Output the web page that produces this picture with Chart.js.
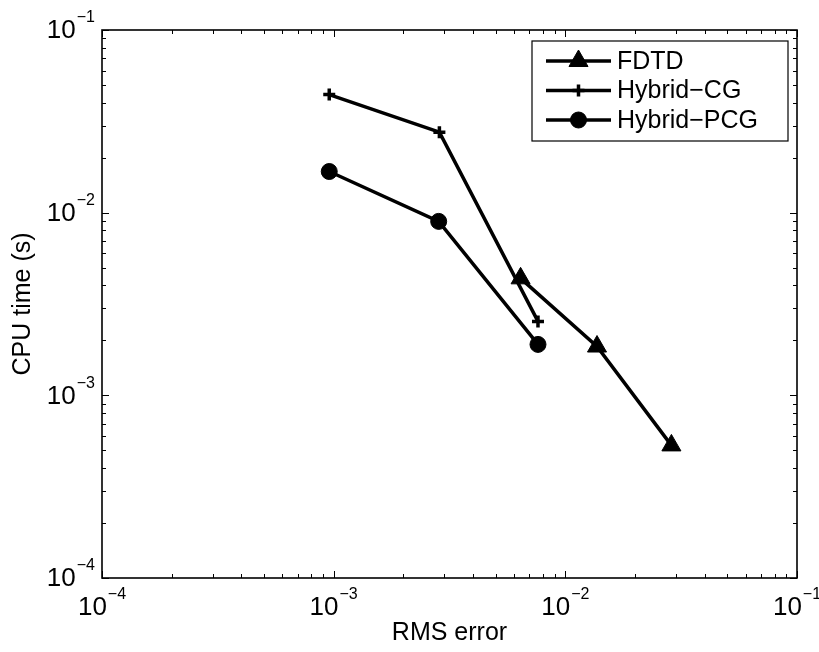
<!DOCTYPE html>
<html>
<head>
<meta charset="utf-8">
<script src="https://cdn.jsdelivr.net/npm/chart.js@4.4.1/dist/chart.umd.min.js"></script>
<style>
  html, body { margin: 0; background: #fff; }
  canvas { display: block; }
</style>
</head>
<body>
<canvas id="cpuChart" width="819" height="652"></canvas>
<script>
// values (RMS error vs CPU time, log-log)
const seriesNames = ['FDTD', 'Hybrid\u2212CG', 'Hybrid\u2212PCG'];
const fdtdErr = [6.41e-3, 1.37e-2, 2.87e-2];
const fdtdTime = [4.37e-3, 1.85e-3, 5.32e-4];
const cgErr = [9.57e-4, 2.86e-3, 7.62e-3];
const cgTime = [4.43e-2, 2.76e-2, 2.54e-3];
const pcgErr = [9.57e-4, 2.84e-3, 7.62e-3];
const pcgTime = [1.68e-2, 8.96e-3, 1.90e-3];
const decadeExps = [-4, -3, -2, -1];
const minorSteps = [2, 3, 4, 5, 6, 7, 8, 9];

const FONT = '"Liberation Sans", Arial, Helvetica, sans-serif';

function toPoints(xs, ys) {
    return xs.map((x, i) => ({ x: x, y: ys[i] }));
}

// draws "10" with a raised exponent
function drawPow(ctx, x, y, exp, align) {
    const base = '10';
    const sup = (exp < 0 ? '\u2212' : '') + Math.abs(exp);
    ctx.font = '26px ' + FONT;
    const wb = ctx.measureText(base).width;
    ctx.font = '16px ' + FONT;
    const ws = ctx.measureText(sup).width;
    const total = wb + 1 + ws;
    const x0 = align === 'center' ? x - total / 2 : x - total;
    ctx.textAlign = 'left';
    ctx.textBaseline = 'middle';
    ctx.font = '26px ' + FONT;
    ctx.fillText(base, x0, y);
    ctx.font = '16px ' + FONT;
    ctx.fillText(sup, x0 + wb + 1, y - 13);
}

// box, inward ticks on all four sides and tick labels, MATLAB style
const matlabAxes = {
    id: 'matlabAxes',
    afterDraw(chart) {
        const { ctx, chartArea: a } = chart;
        const xs = chart.scales.x, ys = chart.scales.y;
        ctx.save();
        ctx.strokeStyle = '#000';
        ctx.fillStyle = '#000';
        ctx.lineWidth = 1;

        const majorLen = 7, minorLen = 4;
        const tickValues = [];
        decadeExps.forEach((e, i) => {
            tickValues.push({ v: Math.pow(10, e), major: true });
            if (i < decadeExps.length - 1) {
                minorSteps.forEach(m => tickValues.push({ v: m * Math.pow(10, e), major: false }));
            }
        });

        ctx.beginPath();
        tickValues.forEach(t => {
            const len = t.major ? majorLen : minorLen;
            const px = Math.round(xs.getPixelForValue(t.v)) + 0.5;
            ctx.moveTo(px, a.bottom); ctx.lineTo(px, a.bottom - len);
            ctx.moveTo(px, a.top); ctx.lineTo(px, a.top + len);
            const py = Math.round(ys.getPixelForValue(t.v)) + 0.5;
            ctx.moveTo(a.left, py); ctx.lineTo(a.left + len, py);
            ctx.moveTo(a.right, py); ctx.lineTo(a.right - len, py);
        });
        ctx.stroke();

        ctx.lineWidth = 1.6;
        ctx.strokeRect(a.left, a.top, a.right - a.left, a.bottom - a.top);

        decadeExps.forEach(e => {
            const v = Math.pow(10, e);
            drawPow(ctx, xs.getPixelForValue(v), a.bottom + 30, e, 'center');
            drawPow(ctx, a.left - 7, ys.getPixelForValue(v) + 1, e, 'right');
        });
        ctx.restore();
    }
};

// legend box with line + marker samples
const matlabLegend = {
    id: 'matlabLegend',
    afterDraw(chart) {
        const { ctx, chartArea: a } = chart;
        const boxW = 256, boxH = 100;
        const bx = a.right - 9 - boxW, by = a.top + 11;
        ctx.save();
        ctx.fillStyle = '#fff';
        ctx.fillRect(bx, by, boxW, boxH);
        ctx.strokeStyle = '#000';
        ctx.lineWidth = 1.2;
        ctx.strokeRect(bx, by, boxW, boxH);

        chart.data.datasets.forEach((ds, i) => {
            const y = by + 20 + i * 29.5;
            ctx.strokeStyle = ds.borderColor;
            ctx.lineWidth = ds.borderWidth;
            ctx.beginPath();
            ctx.moveTo(bx + 14, y);
            ctx.lineTo(bx + 79, y);
            ctx.stroke();
            ctx.fillStyle = ds.pointBackgroundColor;
            ctx.strokeStyle = ds.pointBorderColor;
            ctx.lineWidth = ds.pointBorderWidth;
            Chart.helpers.drawPoint(ctx, {
                pointStyle: ds.pointStyle,
                radius: ds.pointRadius,
                rotation: 0,
                borderWidth: ds.pointBorderWidth
            }, bx + 46.5, y);
            ctx.fillStyle = '#000';
            ctx.font = '25px ' + FONT;
            ctx.textAlign = 'left';
            ctx.textBaseline = 'middle';
            ctx.fillText(ds.label, bx + 85, y + 1);
        });
        ctx.restore();
    }
};

const ctx = document.getElementById('cpuChart').getContext('2d');
new Chart(ctx, {
    type: 'line',
    data: {
        datasets: [{
            label: seriesNames[0],
            data: toPoints(fdtdErr, fdtdTime),
            borderColor: '#000',
            backgroundColor: '#000',
            borderWidth: 3.5,
            pointStyle: 'triangle',
            pointRadius: 11,
            pointBorderWidth: 1,
            pointBackgroundColor: '#000',
            pointBorderColor: '#000'
        }, {
            label: seriesNames[1],
            data: toPoints(cgErr, cgTime),
            borderColor: '#000',
            backgroundColor: '#000',
            borderWidth: 3.5,
            pointStyle: 'cross',
            pointRadius: 6,
            pointBorderWidth: 3.5,
            pointBackgroundColor: '#000',
            pointBorderColor: '#000'
        }, {
            label: seriesNames[2],
            data: toPoints(pcgErr, pcgTime),
            borderColor: '#000',
            backgroundColor: '#000',
            borderWidth: 3.5,
            pointStyle: 'circle',
            pointRadius: 8,
            pointBorderWidth: 1,
            pointBackgroundColor: '#000',
            pointBorderColor: '#000'
        }]
    },
    options: {
        responsive: false,
        animation: false,
        devicePixelRatio: 1,
        layout: { padding: { top: 30, right: 22, left: 0, bottom: 0 } },
        scales: {
            x: {
                type: 'logarithmic',
                min: 1e-4,
                max: 1e-1,
                grid: { display: false },
                border: { display: false },
                ticks: { display: false },
                title: {
                    display: true,
                    text: 'RMS error',
                    color: '#000',
                    font: { family: FONT, size: 25 },
                    padding: { top: 0, bottom: 4 }
                },
                afterFit: s => { s.height = 74; }
            },
            y: {
                type: 'logarithmic',
                min: 1e-4,
                max: 1e-1,
                grid: { display: false },
                border: { display: false },
                ticks: { display: false },
                title: {
                    display: true,
                    text: 'CPU time (s)',
                    color: '#000',
                    font: { family: FONT, size: 25 },
                    padding: { top: 8, bottom: 0 }
                },
                afterFit: s => { s.width = 102; }
            }
        },
        plugins: {
            legend: { display: false },
            tooltip: { enabled: false }
        }
    },
    plugins: [matlabAxes, matlabLegend]
});
</script>
</body>
</html>
